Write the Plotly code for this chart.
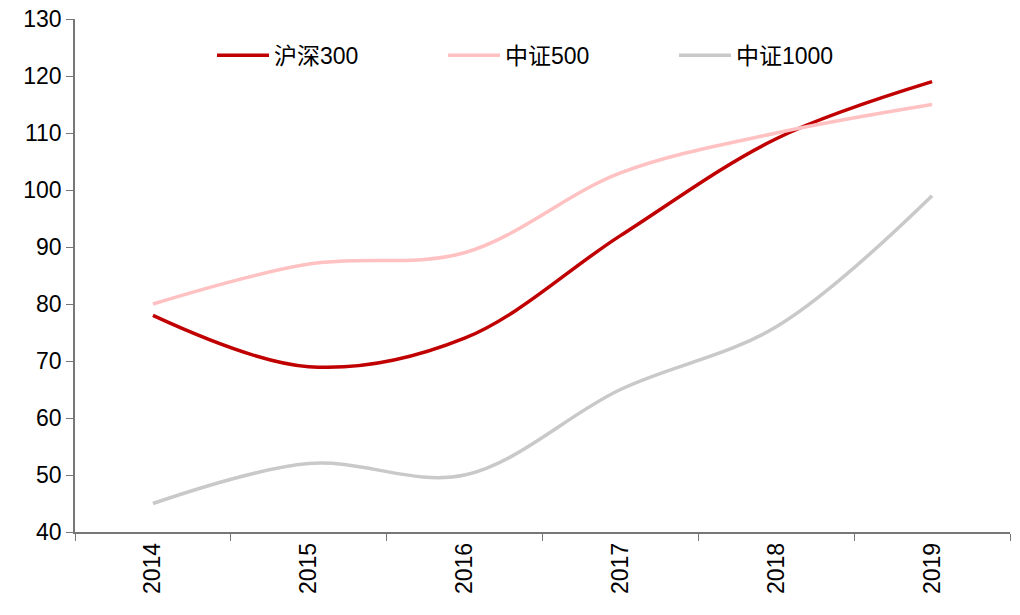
import plotly.graph_objects as go

years = ["2014", "2015", "2016", "2017", "2018", "2019"]
hs300 = [78, 69, 74, 92, 109, 119]
zz500 = [80, 87, 89, 103, 110, 115]
zz1000 = [45, 52, 50, 65, 76, 99]

series = [
    ("沪深300", hs300, "#C00000"),
    ("中证500", zz500, "#FFC1C1"),
    ("中证1000", zz1000, "#C9C9C9"),
]

fig = go.Figure()
for name, vals, color in series:
    fig.add_trace(go.Scatter(
        x=years, y=vals, name=name, mode="lines",
        line=dict(color=color, width=3.5, shape="spline", smoothing=1.0),
    ))

font_family = "Liberation Sans, Arial, Noto Sans CJK SC, sans-serif"
fig.update_layout(
    width=1020, height=615,
    margin=dict(l=75, r=10, t=19, b=83),
    plot_bgcolor="white", paper_bgcolor="white",
    font=dict(family=font_family, size=23, color="black"),
    legend=dict(
        orientation="h", x=(212 - 75) / 935, xanchor="left", y=0.971, yanchor="top",
        font=dict(size=23), entrywidth=164, itemwidth=52, bgcolor="rgba(0,0,0,0)",
        tracegroupgap=0,
    ),
    xaxis=dict(
        type="category", range=[-0.5, 5.5], tickson="boundaries",
        showline=True, linecolor="#777777", linewidth=1.5,
        ticks="outside", ticklen=7, tickcolor="#777777", tickangle=-90,
        tickfont=dict(size=23), automargin=False, ticklabeloverflow="allow",
        showgrid=False, zeroline=False,
    ),
    yaxis=dict(
        range=[40, 130], dtick=10, tick0=40,
        showline=True, linecolor="#777777", linewidth=1.5,
        ticks="outside", ticklen=7, tickcolor="#777777",
        tickfont=dict(size=23), automargin=False, ticklabeloverflow="allow",
        showgrid=False, zeroline=False,
    ),
)

fig.write_html(
    "out.html",
    config={"displayModeBar": False},
    post_script="document.body.style.margin='0';document.body.style.overflow='hidden';",
)
